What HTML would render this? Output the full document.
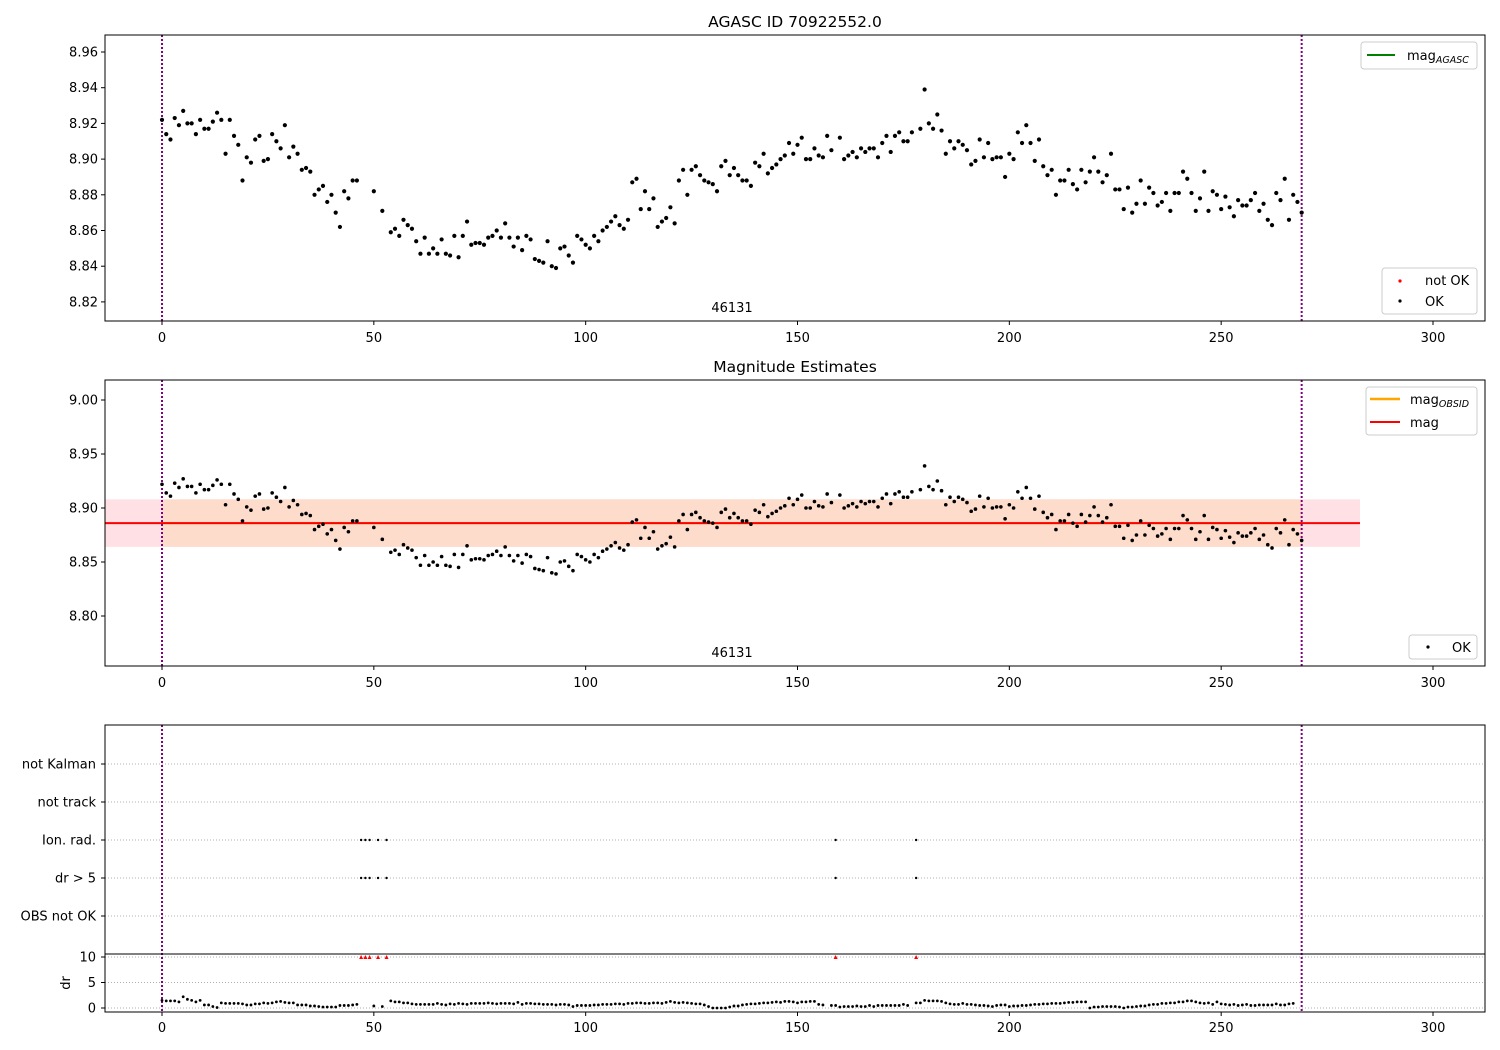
<!DOCTYPE html>
<html><head><meta charset="utf-8"><style>
body{margin:0;background:#fff}
svg{display:block;font-family:"DejaVu Sans","Liberation Sans",sans-serif}
text{font-size:13px;fill:#000}
text.title{font-size:15.5px}
</style></head><body>
<svg id="chart" width="1500" height="1050" xmlns="http://www.w3.org/2000/svg"></svg>
<script>
const mags = [8.922,8.914,8.911,8.923,8.919,8.927,8.920,8.920,8.914,8.922,8.917,8.917,8.921,8.926,8.922,8.903,8.922,8.913,8.908,8.888,8.901,8.898,8.911,8.913,8.899,8.900,8.914,8.910,8.906,8.919,8.901,8.907,8.903,8.894,8.895,8.893,8.880,8.883,8.885,8.876,8.880,8.870,8.862,8.882,8.878,8.888,8.888,null,null,null,8.882,null,8.871,null,8.859,8.861,8.857,8.866,8.863,8.861,8.854,8.847,8.856,8.847,8.850,8.847,8.855,8.847,8.846,8.857,8.845,8.857,8.865,8.852,8.853,8.853,8.852,8.856,8.857,8.860,8.856,8.864,8.856,8.851,8.856,8.849,8.857,8.855,8.844,8.843,8.842,8.854,8.840,8.839,8.850,8.851,8.846,8.842,8.857,8.855,8.852,8.850,8.857,8.854,8.860,8.862,8.865,8.868,8.863,8.861,8.866,8.887,8.889,8.872,8.882,8.872,8.878,8.862,8.865,8.867,8.873,8.864,8.888,8.894,8.880,8.894,8.896,8.891,8.888,8.887,8.886,8.882,8.896,8.899,8.891,8.895,8.891,8.888,8.888,8.885,8.898,8.896,8.903,8.892,8.895,8.897,8.900,8.902,8.909,8.903,8.908,8.912,8.900,8.900,8.906,8.902,8.901,8.913,8.905,null,8.912,8.900,8.902,8.904,8.901,8.906,8.904,8.906,8.906,8.901,8.909,8.913,8.904,8.913,8.915,8.910,8.910,8.915,null,8.917,8.939,8.920,8.917,8.925,8.916,8.903,8.910,8.906,8.910,8.908,8.905,8.897,8.899,8.911,8.901,8.909,8.900,8.901,8.901,8.890,8.903,8.900,8.915,8.909,8.919,8.909,8.899,8.911,8.896,8.891,8.894,8.880,8.888,8.888,8.894,8.886,8.883,8.894,8.887,8.893,8.901,8.893,8.887,8.891,8.903,8.883,8.883,8.872,8.884,8.870,8.875,8.888,8.875,8.884,8.881,8.874,8.876,8.881,8.871,8.881,8.881,8.893,8.889,8.881,8.871,8.878,8.893,8.871,8.882,8.880,8.872,8.879,8.873,8.868,8.877,8.874,8.874,8.877,8.881,8.871,8.875,8.866,8.863,8.881,8.877,8.889,8.866,8.880,8.876,8.870];
const drs = [1.5,1.4,1.4,1.4,1.2,2.2,1.7,1.5,1.2,1.5,0.6,0.6,0.3,0.1,1.0,0.9,0.9,0.9,0.9,0.8,0.6,0.6,0.8,0.8,1.0,0.9,1.0,1.2,1.3,1.1,1.0,1.0,0.6,0.6,0.6,0.4,0.4,0.3,0.2,0.2,0.2,0.2,0.5,0.5,0.5,0.6,0.7,null,null,null,0.4,null,0.3,null,1.4,1.2,1.2,1.0,1.0,0.8,0.7,0.7,0.7,0.7,0.7,0.9,0.7,0.6,0.8,0.7,0.9,0.8,0.7,0.9,0.9,0.9,0.9,1.0,0.9,0.8,0.9,0.9,0.9,0.8,1.1,0.7,0.9,0.9,0.8,0.8,0.7,0.7,0.7,0.6,0.7,0.7,0.6,0.3,0.5,0.5,0.5,0.5,0.6,0.6,0.7,0.7,0.7,0.8,0.8,0.7,0.9,0.9,1.0,1.0,0.9,0.9,1.0,1.0,0.9,1.1,1.3,1.1,1.0,1.1,1.0,0.9,0.8,0.8,0.6,0.3,0.0,0.0,0.0,0.0,0.2,0.4,0.4,0.6,0.7,0.8,0.8,0.9,1.0,1.0,1.1,1.2,1.1,1.3,1.3,1.2,1.0,1.2,1.2,1.3,1.3,0.7,0.6,null,0.5,0.5,0.2,0.3,0.3,0.3,0.4,0.3,0.3,0.5,0.3,0.5,0.5,0.5,0.5,0.5,0.5,0.7,0.5,null,1.0,1.0,1.5,1.4,1.4,1.4,1.3,1.0,0.8,0.7,0.7,0.9,0.7,0.7,0.6,0.5,0.5,0.4,0.3,0.5,0.6,0.6,0.3,0.4,0.4,0.5,0.5,0.6,0.7,0.7,0.8,0.8,0.9,0.9,0.9,1.0,1.1,1.1,1.2,1.2,1.2,0.0,0.2,0.2,0.3,0.3,0.3,0.3,0.2,0.0,0.2,0.2,0.3,0.4,0.4,0.6,0.7,0.7,0.9,0.9,1.0,1.0,1.2,1.2,1.4,1.4,1.2,1.0,0.9,1.0,0.7,1.2,0.8,0.7,0.6,0.7,0.5,0.6,0.7,0.5,0.5,0.6,0.6,0.6,0.6,0.8,0.6,0.6,0.8,0.9];
const flagged = [47,48,49,51,53,159,178];
const xTicks = [0,50,100,150,200,250,300];
const y1Ticks = [8.82,8.84,8.86,8.88,8.90,8.92,8.94,8.96];
const y2Ticks = [8.80,8.85,8.90,8.95,9.00];
const cats = ["not Kalman","not track","Ion. rad.","dr > 5","OBS not OK"];
const drTicks = [0,5,10];
const magMean = 8.886, magLo = 8.864, magHi = 8.908;

const NS="http://www.w3.org/2000/svg", svg=document.getElementById('chart');
function el(t,a,p){const e=document.createElementNS(NS,t);for(const k in a)e.setAttribute(k,a[k]);(p||svg).appendChild(e);return e;}
function txt(s,a,p){const e=el('text',a,p);e.textContent=s;return e;}
const X=v=>162+v*4.2367;
const Y1=m=>52+(8.96-m)*1785;
const Y2=m=>400+(9.0-m)*1080;
const YD=d=>1008-d*5.1;
const L=105,R=1485;

const defs=el('defs',{});
[[35,321,'c1'],[380,666,'c2'],[955,1012,'c3']].forEach(([t,b,id])=>{const c=el('clipPath',{id},defs);el('rect',{x:L,y:t,width:R-L,height:b-t},c);});

function xAxis(bottom,lblY,g){
  xTicks.forEach(v=>{el('line',{x1:X(v),x2:X(v),y1:bottom,y2:bottom+4,stroke:'#000'},g);
   const t=txt(v,{x:X(v),y:lblY,'text-anchor':'middle'},g);
   
   });
}
function vlines(top,bottom,g){[0,269].forEach(v=>{const l=el('line',{x1:X(v),x2:X(v),y1:top,y2:bottom,stroke:'#800080','stroke-width':2,'stroke-dasharray':'2,2'},g);
 
 });}

// ---- Panel 1
const g1=el('g',{});


txt('AGASC ID 70922552.0',{x:795,y:27,'text-anchor':'middle','class':'title'},g1);
y1Ticks.forEach(v=>{el('line',{x1:L-4,x2:L,y1:Y1(v),y2:Y1(v),stroke:'#000'},g1);
 const t=txt(v.toFixed(2),{x:L-7,y:Y1(v)+4.5,'text-anchor':'end'},g1);
 
 });
xAxis(321,342,g1);
const p1=el('g',{'clip-path':'url(#c1)'},g1);
vlines(35,321,p1);
mags.forEach((m,i)=>{if(m===null)return;const c=el('circle',{cx:X(i),cy:Y1(m),r:2.1,fill:'#000'},p1);
 
 });
txt('46131',{x:732,y:312,'text-anchor':'middle'},g1);
el('rect',{x:L,y:35,width:R-L,height:286,fill:'none',stroke:'#000'},g1);
const lg1=el('g',{},g1);


el('rect',{x:1361,y:42,width:116,height:27,rx:3,fill:'#fff',stroke:'#ccc'},lg1);
el('line',{x1:1367,x2:1395,y1:55,y2:55,stroke:'green','stroke-width':2},lg1);
const t1=txt('mag',{x:1407,y:60},lg1);const s1=el('tspan',{'font-size':'9.5','font-style':'italic',dy:'3'},t1);s1.textContent='AGASC';
const lg2=el('g',{},g1);


el('rect',{x:1382,y:268,width:95,height:46,rx:3,fill:'#fff',stroke:'#ccc'},lg2);
el('circle',{cx:1400,cy:281,r:1.6,fill:'red'},lg2);txt('not OK',{x:1425,y:285},lg2);
el('circle',{cx:1400,cy:301,r:1.6,fill:'#000'},lg2);txt('OK',{x:1425,y:306},lg2);

// ---- Panel 2
const g2=el('g',{});


txt('Magnitude Estimates',{x:795,y:372,'text-anchor':'middle','class':'title'},g2);
y2Ticks.forEach(v=>{el('line',{x1:L-4,x2:L,y1:Y2(v),y2:Y2(v),stroke:'#000'},g2);
 const t=txt(v.toFixed(2),{x:L-7,y:Y2(v)+4.5,'text-anchor':'end'},g2);
 
 });
xAxis(666,687,g2);
const p2=el('g',{'clip-path':'url(#c2)'},g2);
const band=el('rect',{x:L,y:Y2(magHi),width:1360-L,height:Y2(magLo)-Y2(magHi),fill:'#ffe0e5'},p2);


const band2=el('rect',{x:X(0),y:Y2(magHi),width:X(269)-X(0),height:Y2(magLo)-Y2(magHi),fill:'#fedccb'},p2);


el('line',{x1:X(0),x2:X(269),y1:Y2(magMean),y2:Y2(magMean),stroke:'orange','stroke-width':2},p2);
const ml=el('line',{x1:L,x2:1360,y1:Y2(magMean),y2:Y2(magMean),stroke:'red','stroke-width':2},p2);


vlines(380,666,p2);
mags.forEach((m,i)=>{if(m===null)return;const c=el('circle',{cx:X(i),cy:Y2(m),r:1.8,fill:'#000'},p2);
 
 });
txt('46131',{x:732,y:657,'text-anchor':'middle'},g2);
el('rect',{x:L,y:380,width:R-L,height:286,fill:'none',stroke:'#000'},g2);
const lg3=el('g',{},g2);


el('rect',{x:1366,y:387,width:111,height:48,rx:3,fill:'#fff',stroke:'#ccc'},lg3);
el('line',{x1:1370,x2:1400,y1:399,y2:399,stroke:'orange','stroke-width':2.5},lg3);
const t2=txt('mag',{x:1410,y:404},lg3);const s2=el('tspan',{'font-size':'9.5','font-style':'italic',dy:'3'},t2);s2.textContent='OBSID';
el('line',{x1:1370,x2:1400,y1:422,y2:422,stroke:'red','stroke-width':2},lg3);txt('mag',{x:1410,y:427},lg3);
const lg4=el('g',{},g2);


el('rect',{x:1409,y:635,width:68,height:24,rx:3,fill:'#fff',stroke:'#ccc'},lg4);
el('circle',{cx:1428,cy:647,r:1.6,fill:'#000'},lg4);txt('OK',{x:1452,y:652},lg4);

// ---- Panel 3
const g3=el('g',{});


const catY=[764,802,840,878,916];
cats.forEach((c,i)=>{el('line',{x1:L,x2:R,y1:catY[i],y2:catY[i],stroke:'#b0b0b0','stroke-dasharray':'1,2'},g3);
 el('line',{x1:L-4,x2:L,y1:catY[i],y2:catY[i],stroke:'#000'},g3);
 const t=txt(c,{x:L-9,y:catY[i]+4.5,'text-anchor':'end'},g3);
 
 });
drTicks.forEach(v=>{el('line',{x1:L,x2:R,y1:YD(v),y2:YD(v),stroke:'#b0b0b0','stroke-dasharray':'1,2'},g3);
 el('line',{x1:L-4,x2:L,y1:YD(v),y2:YD(v),stroke:'#000'},g3);
 const t=txt(v,{x:L-9,y:YD(v)+4.5,'text-anchor':'end'},g3);
 
 });
txt('dr',{x:0,y:0,transform:'translate(70,983) rotate(-90)','text-anchor':'middle'},g3);
xAxis(1012,1032,g3);
vlines(725,1012,g3);
flagged.forEach(i=>{[840,878].forEach(y=>{const c=el('circle',{cx:X(i),cy:y,r:1.2,fill:'#000'},g3);
 
 });});
const p3=el('g',{'clip-path':'url(#c3)'},g3);
drs.forEach((d,i)=>{if(d===null)return;const c=el('circle',{cx:X(i),cy:YD(d),r:1.4,fill:'#000'},p3);
 
 });
flagged.forEach(i=>{const x=X(i),y=YD(10);const p=el('polygon',{points:`${x-2},${y+2} ${x+2},${y+2} ${x},${y-2}`,fill:'red'},p3);
 
 });
el('line',{x1:L,x2:R,y1:954,y2:954,stroke:'#000'},g3);
el('rect',{x:L,y:725,width:R-L,height:287,fill:'none',stroke:'#000'},g3);
</script>
</body></html>
